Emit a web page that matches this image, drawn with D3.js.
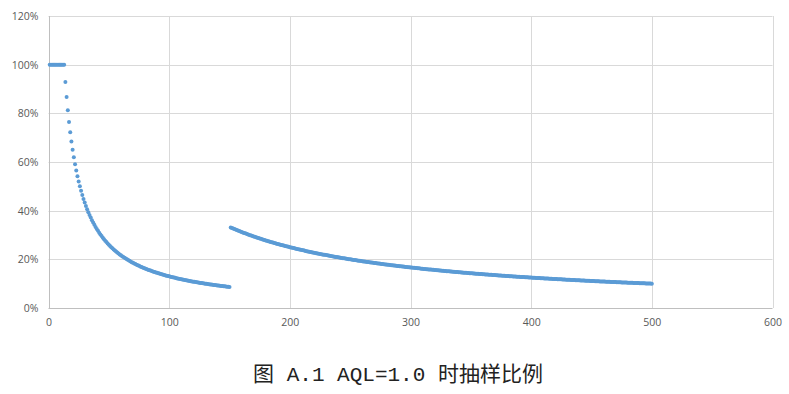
<!DOCTYPE html>
<html>
<head>
<meta charset="utf-8">
<script src="https://cdn.jsdelivr.net/npm/d3@7"></script>
<style>
  body { margin: 0; background: #fff; }
  svg { display: block; }
</style>
</head>
<body>
<div id="chart"></div>
<script>
// sampling plan: lot size ranges and sample size used in each
var lotFrom     = [1, 14, 151];
var lotTo       = [13, 150, 500];
var sampleSizes = [13, 13, 50];   // 1-13: whole lot inspected (100%)

var xTicks = [0, 100, 200, 300, 400, 500, 600];
var yTicks = [0, 0.2, 0.4, 0.6, 0.8, 1.0, 1.2];
var caption = "图 A.1 AQL=1.0 时抽样比例";

// build points: one per lot size
var points = [];
for (var k = 0; k < lotFrom.length; k++) {
	for (var lot = lotFrom[k]; lot <= lotTo[k]; lot++) {
		points.push({ lot: lot, ratio: Math.min(sampleSizes[k], lot) / lot });
	}
}

var width = 789, height = 394;
var margin = { left: 48.5, right: 16.5, top: 16, bottom: 86 };

// Style setting
var dot_color  = "#5B9BD5";
var grid_color = "#D9D9D9";
var text_color = "#595959";
var dot_r      = 2;

var svg = d3.select("#chart").append("svg")
	.attr("width", width)
	.attr("height", height);

var x = d3.scaleLinear().domain([0, 600]).range([margin.left, width - margin.right]);
var y = d3.scaleLinear().domain([0, 1.2]).range([height - margin.bottom, margin.top]);

// gridlines
svg.append("g")
	.selectAll("line.h")
	.data(yTicks)
	.enter().append("line")
	.attr("x1", x(0)).attr("x2", x(600))
	.attr("y1", function(d) { return Math.round(y(d)) + 0.5; })
	.attr("y2", function(d) { return Math.round(y(d)) + 0.5; })
	.attr("stroke", function(d) { return d === 0 ? "#BFBFBF" : grid_color; })
	.attr("stroke-width", 1);

svg.append("g")
	.selectAll("line.v")
	.data(xTicks)
	.enter().append("line")
	.attr("y1", y(1.2)).attr("y2", y(0))
	.attr("x1", function(d) { return Math.round(x(d)) + 0.5; })
	.attr("x2", function(d) { return Math.round(x(d)) + 0.5; })
	.attr("stroke", function(d) { return d === 0 ? "#BFBFBF" : grid_color; })
	.attr("stroke-width", 1);

// axes labels
var xAxis = svg.append("g")
	.attr("transform", "translate(0," + y(0) + ")")
	.call(d3.axisBottom(x).tickValues(xTicks).tickSize(0).tickPadding(11));
var yAxis = svg.append("g")
	.attr("transform", "translate(" + x(0) + ",0)")
	.call(d3.axisLeft(y).tickValues(yTicks).tickFormat(d3.format(".0%")).tickSize(0).tickPadding(10));

[xAxis, yAxis].forEach(function(a) {
	a.select(".domain").remove();
	a.selectAll("text")
		.attr("fill", text_color)
		.style("font-family", "'Open Sans', 'Liberation Sans', sans-serif")
		.style("font-size", "10.5px");
});

// points
svg.append("g")
	.selectAll("circle")
	.data(points)
	.enter().append("circle")
	.attr("cx", function(d) { return x(d.lot); })
	.attr("cy", function(d) { return y(d.ratio); })
	.attr("r", dot_r)
	.attr("fill", dot_color);

// caption
svg.append("text")
	.attr("x", 398)
	.attr("y", 381)
	.attr("text-anchor", "middle")
	.style("font-family", "'Liberation Mono', 'Noto Sans CJK SC', monospace")
	.style("font-size", "21px")
	.attr("fill", "#222")
	.text(caption);
</script>
</body>
</html>
